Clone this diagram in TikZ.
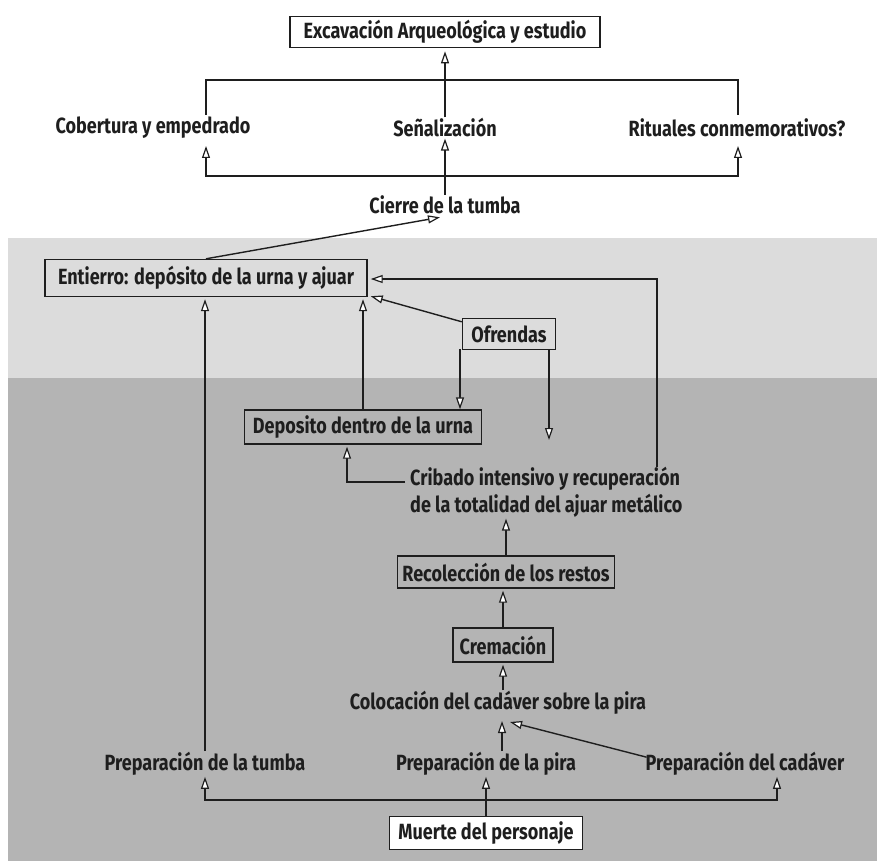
\documentclass[tikz,border=0pt]{standalone}
\usepackage{fontspec}
\setmainfont{Fira Sans}[FakeStretch=0.82,UprightFont=* Medium,BoldFont=* Bold]
\usetikzlibrary{arrows.meta,calc}
\definecolor{txt}{HTML}{1E1E1E}
\definecolor{lightbg}{HTML}{DCDCDC}
\definecolor{darkbg}{HTML}{B4B4B4}
\begin{document}
\begin{tikzpicture}[x=1pt,y=-1pt,
  lbl/.style={font=\fontsize{22}{24}\selectfont\bfseries, text=txt, inner sep=1pt},
  boxn/.style={lbl, draw=txt, line width=1.4pt, inner xsep=5pt, inner ysep=4pt},
  wire/.style={draw=txt, line width=1.4pt},
  arr/.style={wire, -{Triangle[fill=white,length=12pt,width=8pt,line width=1.2pt]}}
]
\useasboundingbox (0,0) rectangle (877,861);
\fill[white] (0,0) rectangle (877,861);
\fill[lightbg] (8,238) rectangle (877,378);
\fill[darkbg] (8,378) rectangle (877,861);

% top part
\node[boxn, fill=white, minimum width=310pt, minimum height=30pt] (exc) at (445,32) {Excavación Arqueológica y estudio};
\node[lbl] (cob) at (153,128) {Cobertura y empedrado};
\node[lbl] (sen) at (445,128) {Señalización};
\node[lbl] (rit) at (737,128) {Rituales conmemorativos?};
\node[lbl] (cie) at (445,205) {Cierre de la tumba};

\coordinate (cobt) at (206,115);
\coordinate (ritt) at (738,115);
\coordinate (jt) at (445,80);
\coordinate (cobb) at (206,146);
\coordinate (ritb) at (738,146);
\coordinate (jb) at (445,176);

\draw[wire] (cobt) |- (jt) -| (ritt);
\draw[arr] (sen.north) -- ($(exc.south)+(0,3)$);
\draw[arr] (cie.north) -- (sen.south);
\draw[arr] (jb) -| (cobb);
\draw[arr] (jb) -| (ritb);

% middle part
\node[boxn, fill=lightbg, minimum width=322pt, minimum height=37pt] (ent) at (206,278) {Entierro: depósito de la urna y ajuar};
\node[boxn, fill=lightbg, minimum width=93pt, minimum height=31pt] (ofr) at (509,334) {Ofrendas};
\node[boxn, fill=darkbg, minimum width=237pt, minimum height=34pt] (dep) at (363,427) {Deposito dentro de la urna};
\node[lbl, align=left, anchor=north west, font=\fontsize{22}{27}\selectfont\bfseries] (crib) at (409,466) {Cribado intensivo y recuperación\\de la totalidad del ajuar metálico};
\node[boxn, fill=darkbg, minimum width=212pt, minimum height=32pt] (rec) at (506,572) {Recolección de los restos};
\node[boxn, fill=darkbg, minimum width=100pt, minimum height=34pt] (cre) at (503,645) {Cremación};
\node[lbl] (col) at (498,703) {Colocación del cadáver sobre la pira};
\node[lbl] (tum) at (205,764) {Preparación de la tumba};
\node[lbl] (pir) at (486,764) {Preparación de la pira};
\node[lbl] (cad) at (745,764) {Preparación del cadáver};
\node[boxn, fill=white, minimum width=193pt, minimum height=33pt] (mue) at (486,833) {Muerte del personaje};

\draw[arr] (ent.north) -- ($(cie.south)+(-5,2)$);
\coordinate (cribr) at (657,467);
\draw[arr] (cribr) |- ($(ent.east)+(3,1)$);
\draw[arr] ($(ofr.north west)+(0,4)$) -- ($(ent.south east)+(3,-1)$);
\draw[arr] (dep.north) -- ($(dep.north |- ent.south)+(0,2)$);
\draw[arr] (tum.north) -- ($(tum.north |- ent.south)+(0,2)$);
\coordinate (ofl) at (460,349);
\coordinate (ofr2) at (549,349);
\draw[arr] (ofl) -- (ofl |- dep.north);
\draw[arr] (ofr2) -- (549,440);
\coordinate (cribl) at (405,482);
\draw[arr] (cribl) -| ($(dep.south)+(-16,2)$);
\draw[arr] (rec.north) -- (rec.north |- crib.south);
\draw[arr] (cre.north) -- ($(cre.north |- rec.south)+(0,2)$);
\draw[arr] (col.north -| cre.south) -- ($(cre.south)+(0,2)$);
\coordinate (colb) at (502,721);
\draw[arr] (pir.north -| colb) -- (colb);
\draw[arr] ($(cad.north west)+(2,6)$) -- ($(colb)+(8,1)$);
\coordinate (jm) at (486,800);
\draw[arr] (mue.north) -- (pir.south);
\draw[arr] (jm) -| (tum.south);
\draw[arr] (jm) -| ($(cad.south)+(32,0)$);
\end{tikzpicture}
\end{document}
